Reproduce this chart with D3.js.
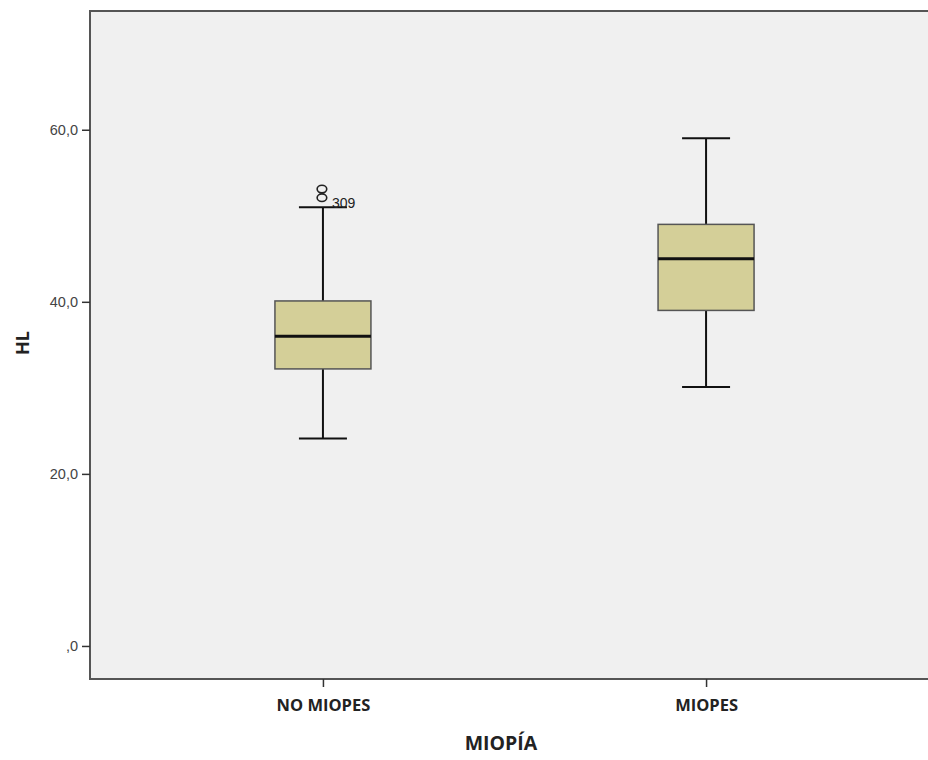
<!DOCTYPE html>
<html>
<head>
<meta charset="utf-8">
<script src="https://cdn.jsdelivr.net/npm/d3@7/dist/d3.min.js"></script>
<style>
  html, body { margin: 0; padding: 0; background: #ffffff; }
  svg { display: block; font-family: "Liberation Sans", Arial, sans-serif; }
</style>
</head>
<body>
<svg id="chart" width="928" height="760"></svg>
<script>
// HL by myopia group: five-number summaries and outliers
const categories = ["NO MIOPES", "MIOPES"];
const whiskerLow = [24.1, 30.1];
const q1 = [32.2, 39.0];
const median = [36.0, 45.0];
const q3 = [40.1, 49.0];
const whiskerHigh = [51.0, 59.0];
const outlierGroup = ["NO MIOPES", "NO MIOPES"];
const outlierValue = [53.1, 52.1];
const outlierLabel = ["", "309"];
const yTicks = [0, 20, 40, 60];

(function draw() {
  const svg = d3.select("#chart");
  const plotL = 90, plotT = 11, plotB = 679, plotR = 939;
  const titleFont = "'Open Sans', 'Noto Sans', sans-serif";

  const y = d3.scaleLinear().domain([-3.84, 73.8]).range([plotB, plotT]);
  const x = d3.scalePoint().domain(categories).range([plotL, plotR]).padding(0.608);

  // plot background
  svg.append("rect")
    .attr("x", plotL).attr("y", plotT)
    .attr("width", plotR - plotL).attr("height", plotB - plotT)
    .attr("fill", "#f0f0f0");

  // frame lines (left, top, bottom)
  svg.append("path")
    .attr("d", `M${plotR},${plotT}H${plotL}V${plotB}H${plotR}`)
    .attr("fill", "none").attr("stroke", "#555").attr("stroke-width", 2);

  const fmt = v => v === 0 ? ",0" : d3.format(".1f")(v).replace(".", ",");

  // y axis
  const yAxis = svg.append("g")
    .attr("transform", `translate(${plotL},0)`)
    .call(d3.axisLeft(y).tickValues(yTicks).tickFormat(fmt).tickSize(8).tickPadding(4));
  yAxis.select(".domain").remove();
  yAxis.selectAll(".tick line").attr("stroke", "#333").attr("stroke-width", 1.5);
  yAxis.selectAll(".tick text").attr("fill", "#444").attr("font-size", 14.5)
    .attr("font-family", "'Liberation Sans', Arial, sans-serif");

  // x axis
  const xAxis = svg.append("g")
    .attr("transform", `translate(0,${plotB})`)
    .call(d3.axisBottom(x).tickSize(8).tickPadding(12));
  xAxis.select(".domain").remove();
  xAxis.selectAll(".tick line").attr("stroke", "#333").attr("stroke-width", 1.5);
  xAxis.selectAll(".tick text").attr("fill", "#222").attr("font-size", 16.5)
    .attr("font-family", titleFont).attr("font-weight", "bold")
    .attr("dy", null).attr("y", 32);

  // axis titles
  svg.append("text")
    .attr("x", 501).attr("y", 750)
    .attr("text-anchor", "middle")
    .attr("font-family", titleFont)
    .attr("font-size", 19.5).attr("font-weight", "bold").attr("fill", "#222")
    .text("MIOPÍA");
  svg.append("text")
    .attr("transform", `translate(29,343) rotate(-90)`)
    .attr("text-anchor", "middle")
    .attr("font-family", titleFont)
    .attr("font-size", 18).attr("font-weight", "bold").attr("fill", "#222")
    .text("HL");

  // boxes
  const boxW = 96, capW = 48;
  const groups = svg.append("g").selectAll("g")
    .data(categories.map((c, i) => ({
      c, lo: whiskerLow[i], q1: q1[i], med: median[i], q3: q3[i], hi: whiskerHigh[i]
    })))
    .join("g")
    .attr("transform", d => `translate(${x(d.c)},0)`);

  // whiskers
  groups.append("line")
    .attr("x1", 0).attr("x2", 0)
    .attr("y1", d => y(d.hi)).attr("y2", d => y(d.q3))
    .attr("stroke", "#111").attr("stroke-width", 2);
  groups.append("line")
    .attr("x1", 0).attr("x2", 0)
    .attr("y1", d => y(d.q1)).attr("y2", d => y(d.lo))
    .attr("stroke", "#111").attr("stroke-width", 2);
  groups.append("line")
    .attr("x1", -capW / 2).attr("x2", capW / 2)
    .attr("y1", d => y(d.hi)).attr("y2", d => y(d.hi))
    .attr("stroke", "#111").attr("stroke-width", 2);
  groups.append("line")
    .attr("x1", -capW / 2).attr("x2", capW / 2)
    .attr("y1", d => y(d.lo)).attr("y2", d => y(d.lo))
    .attr("stroke", "#111").attr("stroke-width", 2);

  groups.append("rect")
    .attr("x", -boxW / 2).attr("width", boxW)
    .attr("y", d => y(d.q3)).attr("height", d => y(d.q1) - y(d.q3))
    .attr("fill", "#d4cf98").attr("stroke", "#555").attr("stroke-width", 1.5);

  groups.append("line")
    .attr("x1", -boxW / 2).attr("x2", boxW / 2)
    .attr("y1", d => y(d.med)).attr("y2", d => y(d.med))
    .attr("stroke", "#111").attr("stroke-width", 3);

  // outliers
  const outs = svg.append("g").selectAll("g")
    .data(outlierValue.map((v, i) => ({ g: outlierGroup[i], v, label: outlierLabel[i] })))
    .join("g");
  outs.append("ellipse")
    .attr("cx", d => x(d.g) - 1).attr("cy", d => y(d.v))
    .attr("rx", 4.8).attr("ry", 3.8)
    .attr("fill", "none").attr("stroke", "#222").attr("stroke-width", 1.6);
  outs.append("text")
    .attr("x", d => x(d.g) + 9).attr("y", d => y(d.v) + 10)
    .attr("font-size", 14).attr("fill", "#222")
    .text(d => d.label);
})();
</script>
</body>
</html>
